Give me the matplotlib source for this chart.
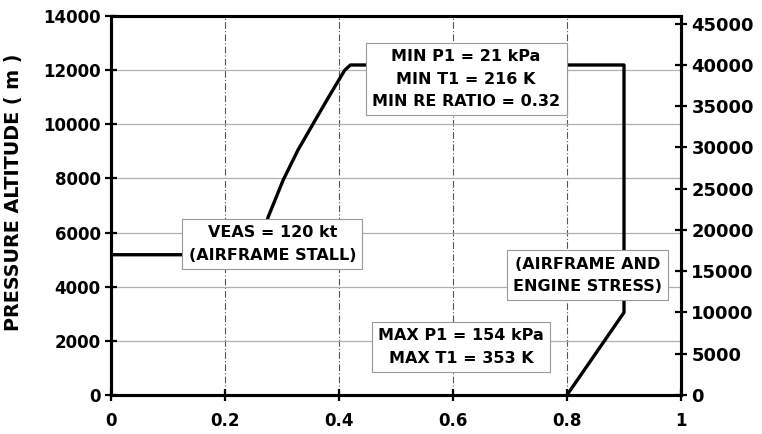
import matplotlib
matplotlib.use("Agg")
import matplotlib.pyplot as plt
import numpy as np

# Flight envelope (Mach number vs pressure altitude, m)
mach = [0.0, 0.254, 0.276, 0.302, 0.328, 0.354, 0.383, 0.410, 0.420, 0.90, 0.90, 0.80]
alt_m = [5182, 5182, 6590, 7940, 9050, 10000, 11050, 12000, 12192, 12192, 3048, 0]

x_ticks = [0, 0.2, 0.4, 0.6, 0.8, 1.0]
x_labels = ["0", "0.2", "0.4", "0.6", "0.8", "1"]
y_ticks_m = list(range(0, 14001, 2000))
y_ticks_ft = list(range(0, 45001, 5000))

# annotation boxes: (text, x, y)
notes = [
    ("MIN P1 = 21 kPa\nMIN T1 = 216 K\nMIN RE RATIO = 0.32", 0.623, 11673),
    ("VEAS = 120 kt\n(AIRFRAME STALL)", 0.283, 5580),
    ("(AIRFRAME AND\nENGINE STRESS)", 0.836, 4415),
    ("MAX P1 = 154 kPa\nMAX T1 = 353 K", 0.614, 1773),
]

plt.rcParams["font.family"] = ["DejaVu Sans"]
plt.rcParams["font.weight"] = "bold"

fig = plt.figure(figsize=(7.62, 4.34), dpi=100)
ax = fig.add_axes([0.1457, 0.0899, 0.748, 0.8731])

ax.plot(mach, alt_m, color="black", lw=2.4, zorder=3)

ax.set_xlim(0, 1)
ax.set_ylim(0, 14000)
ax.set_xticks(x_ticks)
ax.set_xticklabels(x_labels)
ax.set_yticks(y_ticks_m)

for xv in x_ticks[1:-1]:
    ax.axvline(xv, color="#555555", lw=0.8, ls=(0, (6, 2, 1, 2)), zorder=1)
for yv in y_ticks_m[1:-1]:
    ax.axhline(yv, color="#b0b0b0", lw=0.9, zorder=1)

for s in ax.spines.values():
    s.set_linewidth(2.2)
ax.tick_params(direction="inout", length=8, width=1.6, labelsize=12)
ax.tick_params(axis="x", pad=8, labelsize=12)
for lab in ax.get_xticklabels() + ax.get_yticklabels():
    lab.set_fontweight("bold")

ax.set_ylabel("PRESSURE ALTITUDE ( m )", fontsize=13.8, fontweight="bold")
ax.yaxis.set_label_coords(-0.154, 0.536)

# right axis in feet
ax2 = ax.twinx()
ax2.set_ylim(0, 14000 / 0.3048)
ax2.set_yticks(y_ticks_ft)
ax2.tick_params(direction="inout", length=8, width=1.6, labelsize=13)
for lab in ax2.get_yticklabels():
    lab.set_fontweight("bold")
for s in ax2.spines.values():
    s.set_linewidth(2.2)

for txt, xv, yv in notes:
    ax.text(xv, yv, txt, ha="center", va="center", fontsize=11.5,
            fontweight="bold", linespacing=1.6, zorder=5,
            bbox=dict(boxstyle="square,pad=0.4", fc="white", ec="#999999", lw=0.8))

fig.savefig("out.png", dpi=100)
